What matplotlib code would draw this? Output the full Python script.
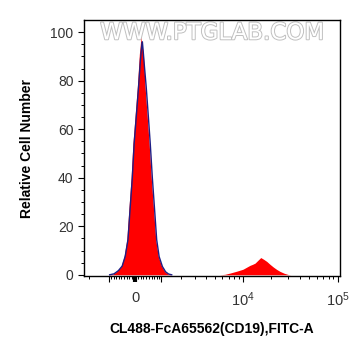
import numpy as np
import matplotlib
matplotlib.use('Agg')
import matplotlib.pyplot as plt
import matplotlib.patheffects as pe

plt.rcParams['font.family'] = ['Liberation Sans', 'DejaVu Sans']
plt.rcParams['mathtext.fontset'] = 'custom'
plt.rcParams['mathtext.rm'] = 'Liberation Sans'
plt.rcParams['mathtext.it'] = 'Liberation Sans:italic'

# ---- data ----
red_peak1_x = [-1000, -820, -650, -508, -396, -297, -214, -142, -78, 10, 82, 153, 200, 214,
               235, 297, 359, 440, 511, 590, 672, 767, 872, 1016, 1160, 1302, 1450]
red_peak1_y = [0, 0.3, 1.5, 3.4, 7.5, 14.4, 28.1, 40, 54, 67, 77.6, 91, 96.5, 97.8,
               95.5, 91, 77.6, 65, 54, 40, 28.1, 14.4, 7.5, 3.4, 1.2, 0.3, 0]
red_peak2_x = [5600, 6400, 7250, 8600, 10000, 11000, 11860, 12600, 13400, 14400, 15400,
               16500, 17830, 19300, 20900, 22700, 24600, 27300, 30100, 32000]
red_peak2_y = [0, 0.2, 0.7, 1.5, 2.3, 3.2, 3.9, 4.3, 4.8, 6.0, 7.1,
               6.4, 5.5, 4.3, 3.2, 2.2, 1.4, 0.6, 0.1, 0]
blue_x = [-960, -780, -610, -465, -352, -252, -170, -98, -33, 55, 125, 195, 240, 261,
          285, 335, 400, 482, 553, 632, 712, 805, 905, 1045, 1190, 1330, 1480]
blue_y = [0, 0.4, 1.7, 3.6, 7.7, 14.6, 28.3, 40, 54, 67, 77.6, 89, 94.5, 96,
          93, 86, 77.6, 65, 54, 40, 28.1, 14.4, 7.5, 3.4, 1.2, 0.3, 0]

x_major = [-1000, 0, 1000, 10000, 100000]
x_major_labels = ['', '0', '', '$10^4$', '$10^5$']
x_minor = ([-2000] + [-v for v in range(100, 1000, 100)] + list(range(100, 1000, 100))
           + list(range(2000, 10000, 1000)) + list(range(20000, 100000, 10000)))
y_major = [0, 20, 40, 60, 80, 100]
y_minor = [v for v in range(0, 105, 5) if v % 20]

C = 1466.0

fig = plt.figure(figsize=(3.61, 3.56), dpi=100)
ax = fig.add_axes([84/361, 1-276/356, 256/361, 256/356])
ax.set_xscale('function', functions=(lambda x: np.arcsinh(np.asarray(x) / C),
                                     lambda y: C * np.sinh(np.asarray(y))))

ax.fill_between(red_peak1_x, red_peak1_y, 0, color='#ff0000', lw=0, zorder=2)
ax.fill_between(red_peak2_x, red_peak2_y, 0, color='#ff0000', lw=0, zorder=2)
ax.plot(blue_x, blue_y, color='#1e1e85', lw=1.0, zorder=3)

ax.set_xlim(-2315, 105400)
ax.set_ylim(-0.5, 105)

ax.set_xticks(x_major)
ax.set_xticklabels(x_major_labels)
ax.set_xticks(x_minor, minor=True)
ax.set_yticks(y_major)
ax.set_yticks(y_minor, minor=True)

ax.tick_params(axis='both', which='major', length=4.5, width=0.8, color='black',
               labelsize=10, labelcolor='#333333', direction='out')
ax.tick_params(axis='both', which='minor', length=2.3, width=0.7, color='black', direction='out')
ax.tick_params(axis='x', which='major', pad=6, labelsize=10.5)
ax.tick_params(axis='y', which='major', pad=3)
# thick zero tick
ax.xaxis.get_major_ticks()[1].tick1line.set_markeredgewidth(3)

for s in ax.spines.values():
    s.set_linewidth(1.0)
    s.set_color('black')

ax.set_ylabel('Relative Cell Number', fontsize=10, fontweight='bold')
ax.set_xlabel('CL488-FcA65562(CD19),FITC-A', fontsize=10, fontweight='bold', labelpad=9)
ax.yaxis.set_label_coords(-50/256, 0.5)

ax.text(0.5, 0.95, 'WWW.PTGLAB.COM', transform=ax.transAxes, ha='center', va='center',
        fontsize=16.5, color='white', family='DejaVu Sans',
        path_effects=[pe.withStroke(linewidth=1.4, foreground='#c0c0c0')], zorder=1)

fig.savefig('out.png', dpi=100)
